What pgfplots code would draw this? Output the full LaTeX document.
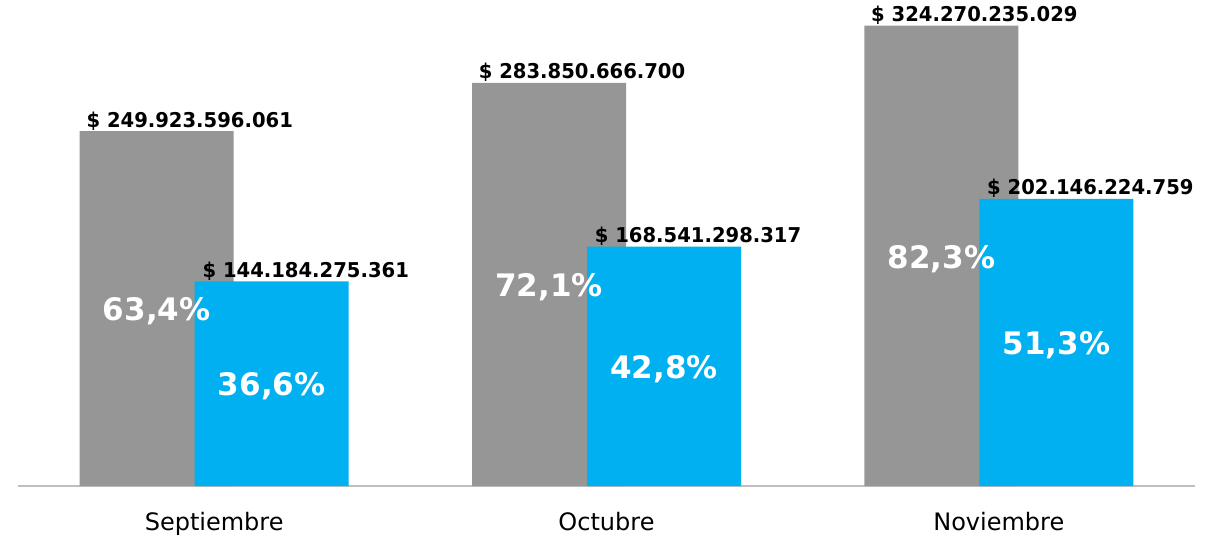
\documentclass[border=0pt]{standalone}
\usepackage{pgfplots}
\pgfplotsset{compat=1.18}
\usepackage{fontspec}
\setmainfont{DejaVu Sans}
\newfontfamily\lblfont[FakeStretch=0.96]{DejaVu Sans}
\definecolor{grisbar}{RGB}{150,150,150}
\definecolor{azulbar}{RGB}{0,176,240}
\definecolor{ejegris}{RGB}{191,191,191}

\begin{document}
\begin{tikzpicture}
\useasboundingbox (0,0) rectangle (603pt,269pt);
\begin{axis}[
  at={(9pt,26pt)}, anchor=south west,
  scale only axis, width=588.5pt, height=243pt,
  xmin=-0.5, xmax=2.5, ymin=0, ymax=342.3,
  axis x line*=bottom, axis y line=none,
  x axis line style={ejegris, line width=1.3pt, -},
  xtick={0,1,2}, xticklabels={Septiembre,Octubre,Noviembre},
  ytick=\empty,
  major tick length=0pt,
  xticklabel style={anchor=base, yshift=-22pt, font=\fontsize{12}{14}\selectfont},
  clip=false,
  point meta=explicit symbolic,
  valor/.style={nodes near coords, nodes near coords style={anchor=base west, xshift=#1, yshift=2pt,
      inner sep=0pt, text=black, font=\lblfont\bfseries\fontsize{10.2}{12}\selectfont}},
  pct/.style={draw=none, fill=none, y filter/.expression={y/2}, nodes near coords,
      nodes near coords style={anchor=center, xshift=#1, yshift=-1.5pt, inner sep=0pt, text=white,
      font=\bfseries\fontsize{15.5}{18}\selectfont}},
]
% gastos (gris)
\addplot[ybar, bar width=77pt, bar shift=-28.75pt, fill=grisbar, draw=none, valor=-64pt] coordinates {
  (0,249.923596061) [\$ 249.923.596.061]
  (1,283.850666700) [\$ 283.850.666.700]
  (2,324.270235029) [\$ 324.270.235.029]
};
% ejecutado (azul)
\addplot[ybar, bar width=77pt, bar shift=28.75pt, fill=azulbar, draw=none, valor=-6pt] coordinates {
  (0,144.184275361) [\$ 144.184.275.361]
  (1,168.541298317) [\$ 168.541.298.317]
  (2,202.146224759) [\$ 202.146.224.759]
};
% porcentajes
\addplot[ybar, bar width=77pt, bar shift=-28.75pt, pct=-28.75pt] coordinates {
  (0,249.923596061) [63,4\%]
  (1,283.850666700) [72,1\%]
  (2,324.270235029) [82,3\%]
};
\addplot[ybar, bar width=77pt, bar shift=28.75pt, pct=28.75pt] coordinates {
  (0,144.184275361) [36,6\%]
  (1,168.541298317) [42,8\%]
  (2,202.146224759) [51,3\%]
};
\end{axis}
\end{tikzpicture}
\end{document}
